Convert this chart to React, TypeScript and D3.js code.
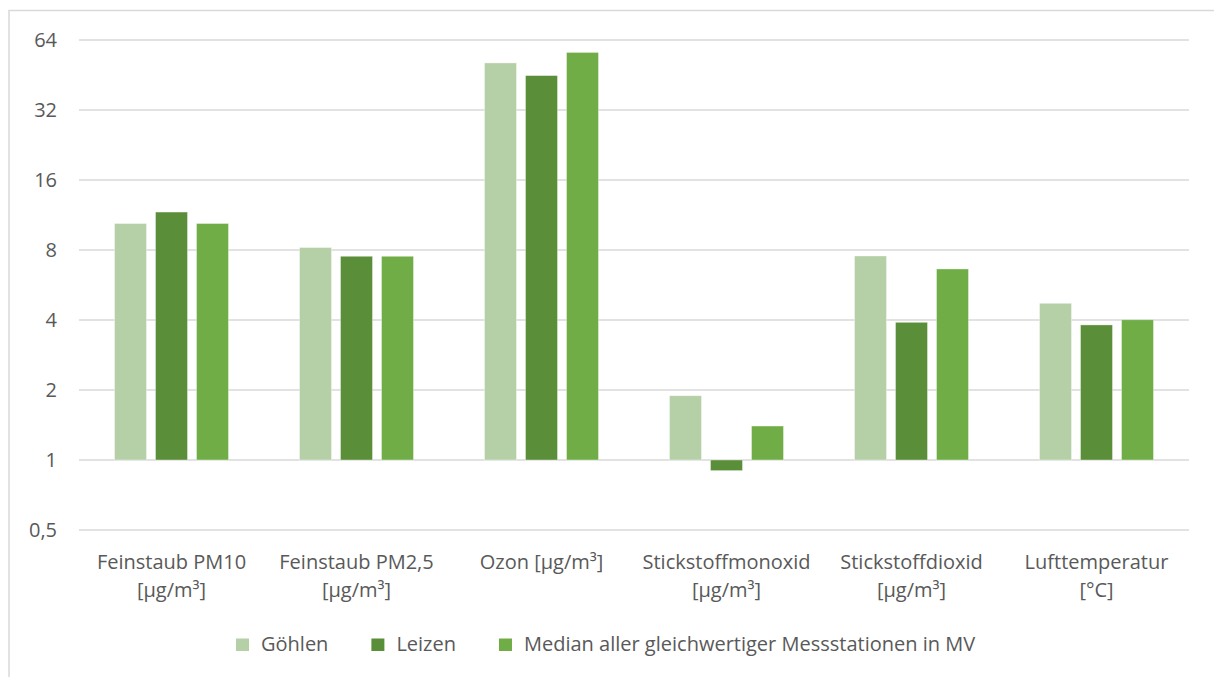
import { useEffect, useRef } from "react";
import * as d3 from "d3";

const categories = [
  ["Feinstaub PM10", "[µg/m³]"],
  ["Feinstaub PM2,5", "[µg/m³]"],
  ["Ozon [µg/m³]"],
  ["Stickstoffmonoxid", "[µg/m³]"],
  ["Stickstoffdioxid", "[µg/m³]"],
  ["Lufttemperatur", "[°C]"],
];

const seriesNames = [
  "Göhlen",
  "Leizen",
  "Median aller gleichwertiger Messstationen in MV",
];

const goehlen = [10.4, 8.2, 51.0, 1.89, 7.54, 4.72];
const leizen = [11.65, 7.52, 45.0, 0.9, 3.91, 3.81];
const median = [10.4, 7.52, 56.6, 1.4, 6.63, 4.01];

const yTicks = [0.5, 1, 2, 4, 8, 16, 32, 64];

const colors = ["#B5CFA7", "#5B8E38", "#70AD47"];

export default function App() {
  const svgRef = useRef<SVGSVGElement | null>(null);

  useEffect(() => {
    if (!svgRef.current) return;
    const width = 1214;
    const height = 677;
    const font = "'Open Sans', sans-serif";
    const fontSize = 20;
    const textColor = "#595959";
    const gridColor = "#D9D9D9";

    const root = d3.select(svgRef.current);
    root.selectAll("*").remove();
    root.attr("width", width).attr("height", height);

    // outer frame (runs off the picture right and bottom)
    root
      .append("rect")
      .attr("x", 9)
      .attr("y", 10.5)
      .attr("width", 1400)
      .attr("height", 900)
      .attr("fill", "#fff")
      .attr("stroke", gridColor)
      .attr("stroke-width", 1.5);

    const left = 79;
    const right = 1189;

    const x0 = d3
      .scaleBand<number>()
      .domain(categories.map((_, i) => i))
      .range([left, right])
      .padding(0);

    const x1 = d3
      .scaleBand<number>()
      .domain(seriesNames.map((_, i) => i))
      .range([35.5, 149.5])
      .paddingInner(9 / 41)
      .paddingOuter(0);

    const y = d3.scaleLog().base(2).domain([0.5, 64]).range([530, 40]);

    // gridlines
    root
      .append("g")
      .selectAll("line")
      .data(yTicks)
      .enter()
      .append("line")
      .attr("x1", left)
      .attr("x2", right)
      .attr("y1", (d) => y(d))
      .attr("y2", (d) => y(d))
      .attr("stroke", gridColor)
      .attr("stroke-width", 1.5);

    // y labels
    root
      .append("g")
      .selectAll("text")
      .data(yTicks)
      .enter()
      .append("text")
      .attr("x", 57)
      .attr("y", (d) => y(d))
      .attr("dy", "0.35em")
      .attr("text-anchor", "end")
      .attr("font-family", font)
      .attr("font-size", fontSize)
      .attr("fill", textColor)
      .text((d) => String(d).replace(".", ","));

    const series = [goehlen, leizen, median];

    series.forEach((vals, s) => {
      root
        .append("g")
        .selectAll("rect")
        .data(vals)
        .enter()
        .append("rect")
        .attr("x", (_, i) => x0(i)! + x1(s)!)
        .attr("width", x1.bandwidth())
        .attr("y", (d) => Math.min(y(d), y(1)))
        .attr("height", (d) => Math.abs(y(d) - y(1)))
        .attr("fill", colors[s])
        .attr("stroke", "#fff")
        .attr("stroke-opacity", 0.5)
        .attr("stroke-width", 0.75);
    });

    // category labels
    const cat = root
      .append("g")
      .selectAll("text")
      .data(categories)
      .enter()
      .append("text")
      .attr("text-anchor", "middle")
      .attr("font-family", font)
      .attr("font-size", fontSize)
      .attr("fill", textColor);

    cat
      .selectAll("tspan")
      .data((d, i) => d.map((t) => ({ t, i })))
      .enter()
      .append("tspan")
      .attr("x", (d) => x0(d.i)! + x0.bandwidth() / 2)
      .attr("y", (_, j) => 569 + j * 28)
      .text((d) => d.t);

    // legend: square, label, gap, next item
    const legend = root.append("g");
    let lx = 236;
    seriesNames.forEach((name, s) => {
      legend
        .append("rect")
        .attr("x", lx)
        .attr("y", 638.5)
        .attr("width", 13)
        .attr("height", 12.5)
        .attr("fill", colors[s]);
      const t = legend
        .append("text")
        .attr("x", lx + 25)
        .attr("y", 651)
        .attr("font-family", font)
        .attr("font-size", fontSize)
        .attr("fill", textColor)
        .text(name);
      const w = (t.node() as SVGTextElement).getComputedTextLength();
      lx = lx + 25 + w + 43;
    });
  }, []);

  return (
    <svg
      ref={svgRef}
      style={{ position: "absolute", left: 0, top: 0, display: "block" }}
    />
  );
}
